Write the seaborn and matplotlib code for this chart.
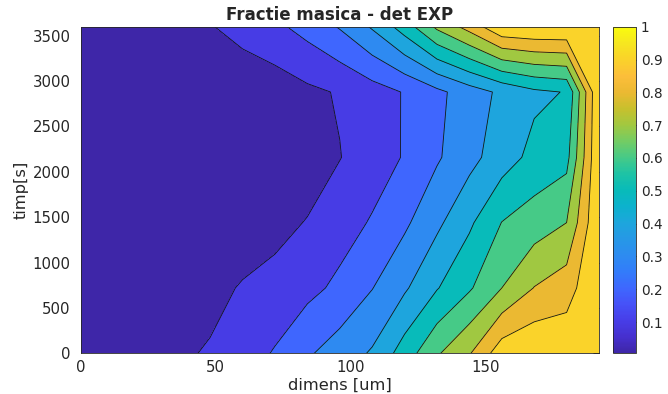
import numpy as np
import matplotlib
matplotlib.use("Agg")
import matplotlib.pyplot as plt
import seaborn as sns
from matplotlib.colors import Normalize
from matplotlib.cm import ScalarMappable

# grila de masura: dimensiune [um] si timp [s]
dimens = [0, 12, 24, 36, 48, 60, 72, 84, 96, 108, 120, 132, 144, 156, 168, 180, 192]
timp = [0, 720, 1440, 2160, 2880, 3600]

# fractia masica, cate un rand pe fiecare moment de timp
frac_t0 = [0.005, 0.015, 0.035, 0.085, 0.109, 0.161, 0.207, 0.287, 0.348, 0.411,
           0.547, 0.688, 0.792, 0.958, 0.990, 0.975, 0.990]
frac_t720 = [0.005, 0.012, 0.025, 0.045, 0.072, 0.108, 0.143, 0.172, 0.222, 0.297,
             0.386, 0.494, 0.588, 0.700, 0.803, 0.855, 1.000]
frac_t1440 = [0.005, 0.010, 0.015, 0.025, 0.035, 0.045, 0.060, 0.107, 0.157, 0.209,
              0.282, 0.379, 0.483, 0.602, 0.649, 0.700, 1.000]
frac_t2160 = [0.005, 0.008, 0.010, 0.012, 0.015, 0.018, 0.022, 0.030, 0.097, 0.151,
              0.207, 0.288, 0.368, 0.453, 0.529, 0.567, 1.000]
frac_t2880 = [0.005, 0.008, 0.010, 0.015, 0.020, 0.030, 0.045, 0.080, 0.108, 0.156,
              0.206, 0.276, 0.351, 0.420, 0.480, 0.505, 1.000]
frac_t3600 = [0.010, 0.020, 0.035, 0.060, 0.094, 0.136, 0.179, 0.235, 0.308, 0.411,
              0.547, 0.720, 0.838, 0.987, 1.000, 1.000, 1.000]

nivele = [0.1, 0.2, 0.3, 0.4, 0.5, 0.6, 0.7, 0.8, 0.9]
cbar_ticks = [0.1, 0.2, 0.3, 0.4, 0.5, 0.6, 0.7, 0.8, 0.9, 1.0]
cbar_labels = ["0.1", "0.2", "0.3", "0.4", "0.5", "0.6", "0.7", "0.8", "0.9", "1"]

# aproximare parula (MATLAB)
parula_hex = ["#3e26a8", "#4630cf", "#473ee8", "#4652f8", "#3e68fe", "#327cfa",
              "#2d8cf0", "#2698e6", "#1da6dc", "#0cb2cd", "#08bbb9", "#1ec3a5",
              "#46ca87", "#73cc64", "#a2c840", "#c8c02d", "#ebb932", "#fcbe3a",
              "#fad22a", "#f6e620", "#f9fb0e"]

sns.set_style("white")
plt.rcParams["font.family"] = ["DejaVu Sans"]
parula = sns.blend_palette(parula_hex, n_colors=256, as_cmap=True)

Z = np.array([frac_t0, frac_t720, frac_t1440, frac_t2160, frac_t2880, frac_t3600])
zmin, zmax = Z.min(), Z.max()
norm = Normalize(vmin=zmin, vmax=zmax)

niv_fill = [zmin] + nivele + [zmax]
culori = [parula(norm(v)) for v in niv_fill[:-1]]

fig = plt.figure(figsize=(6.68, 3.94), dpi=100)
ax = fig.add_axes([80.5 / 668, 1 - 353.3 / 394, (599 - 80.5) / 668, (353.3 - 26.7) / 394])

ax.contourf(dimens, timp, Z, levels=niv_fill, colors=culori)
ax.contour(dimens, timp, Z, levels=nivele, colors="#141414", linewidths=0.6)

ax.set_xlim(0, 192)
ax.set_ylim(0, 3600)
ax.set_xticks([0, 50, 100, 150])
ax.set_yticks([0, 500, 1000, 1500, 2000, 2500, 3000, 3500])
ax.tick_params(direction="in", length=4, width=0.6, color="#262626",
               labelsize=10.7, labelcolor="#262626", top=True, right=True)
ax.tick_params(axis="x", pad=5)
ax.tick_params(axis="y", pad=7)
for s in ax.spines.values():
    s.set_color("#262626")
    s.set_linewidth(0.6)

ax.set_xlabel("dimens [um]", fontsize=11.7, color="#262626", labelpad=2)
ax.set_ylabel("timp[s]", fontsize=11.7, color="#262626", labelpad=3)
ax.set_title("Fractie masica - det EXP", fontsize=12, fontweight="bold", pad=5)

# bara de culori, putin mai la stanga ca etichetele sa incapa in imagine
cax = fig.add_axes([613 / 668, 1 - 353.3 / 394, 23 / 668, (353.3 - 26.7) / 394])
sm = ScalarMappable(norm=norm, cmap=parula)
cb = fig.colorbar(sm, cax=cax, ticks=cbar_ticks)
cb.ax.set_yticklabels(cbar_labels)
cb.ax.tick_params(direction="in", length=4, width=0.6, color="#262626",
                  labelsize=9.8, labelcolor="#262626", pad=3.5)
cb.outline.set_edgecolor("#262626")
cb.outline.set_linewidth(0.6)

fig.savefig("out.png", dpi=100)
